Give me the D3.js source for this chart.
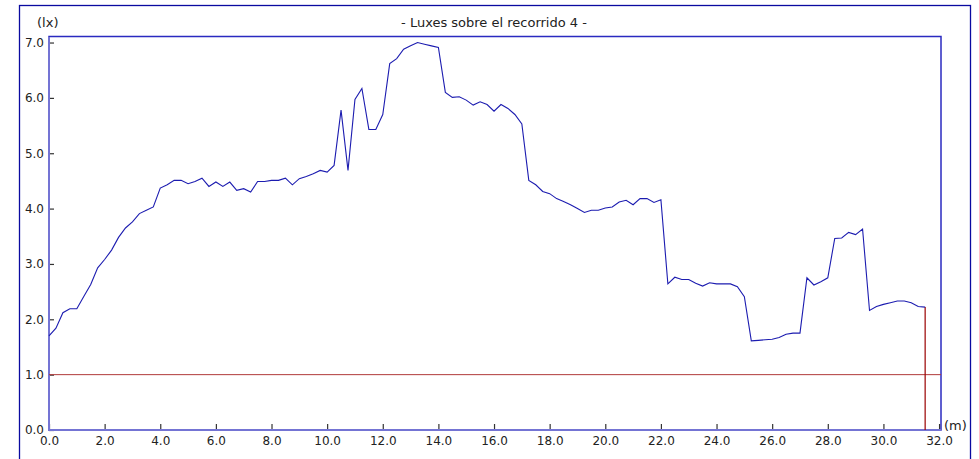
<!DOCTYPE html>
<html>
<head>
<meta charset="utf-8">
<script src="https://cdn.jsdelivr.net/npm/d3@7"></script>
<style>
	body { margin: 0; background: #fff; }
	text { font-family: "DejaVu Sans", Verdana, sans-serif; font-size: 12px; fill: #222; }
</style>
</head>
<body>
<svg id="chart" width="979" height="459"></svg>
<script>
// Luxes measured every 0.25 m along route 4
const step = 0.25;
const luxValues = [
	1.70, 1.84, 2.12, 2.19, 2.19, 2.41, 2.63, 2.93, 3.08, 3.25, 3.48, 3.65,
	3.76, 3.91, 3.97, 4.03, 4.37, 4.43, 4.51, 4.51, 4.45, 4.49, 4.55, 4.40,
	4.48, 4.40, 4.48, 4.33, 4.36, 4.30, 4.49, 4.49, 4.51, 4.51, 4.55, 4.43,
	4.54, 4.58, 4.63, 4.69, 4.66, 4.78, 5.78, 4.69, 5.97, 6.17, 5.43, 5.43,
	5.70, 6.62, 6.71, 6.88, 6.94, 7.00, 6.97, 6.94, 6.91, 6.10, 6.01, 6.02,
	5.96, 5.87, 5.93, 5.88, 5.76, 5.88, 5.81, 5.70, 5.53, 4.51, 4.43, 4.31,
	4.27, 4.18, 4.13, 4.07, 4.00, 3.93, 3.97, 3.97, 4.01, 4.03, 4.12, 4.15,
	4.07, 4.18, 4.18, 4.11, 4.16, 2.64, 2.76, 2.72, 2.72, 2.65, 2.60, 2.66,
	2.64, 2.64, 2.64, 2.59, 2.41, 1.61, 1.62, 1.63, 1.64, 1.67, 1.73, 1.75,
	1.75, 2.75, 2.62, 2.68, 2.75, 3.46, 3.47, 3.57, 3.53, 3.63, 2.16, 2.23,
	2.27, 2.30, 2.33, 2.33, 2.30, 2.23, 2.22
];
const threshold = 1.0;
const xTicks = d3.range(0, 32.01, 2);
const yTicks = d3.range(0, 7.01, 1);
const title = "- Luxes sobre el recorrido 4 -";

const svg = d3.select("#chart");
const plot = { left: 49, right: 941, top: 37, bottom: 430 };

const x = d3.scaleLinear().domain([0, 32.07]).range([plot.left, plot.right]);
const y = d3.scaleLinear().domain([0, 7.1]).range([plot.bottom, plot.top]);

const points = luxValues.map((v, i) => ({ d: i * step, v: v }));
const lastD = points[points.length - 1].d;

// outer frame
svg.append("rect")
	.attr("x", 19.5).attr("y", 5.5)
	.attr("width", 951).attr("height", 470)
	.attr("fill", "none").attr("stroke", "#0a0aa0").attr("stroke-width", 1.3);

// plot frame
svg.append("rect")
	.attr("x", plot.left).attr("y", plot.top - 0.5)
	.attr("width", plot.right - plot.left).attr("height", plot.bottom - plot.top + 0.5)
	.attr("fill", "none").attr("stroke", "#2a2ac0").attr("stroke-width", 1.5);

// title
svg.append("text")
	.attr("x", 494).attr("y", 27)
	.attr("text-anchor", "middle")
	.style("font-size", "13px")
	.text(title);

// axes
const yAxis = svg.append("g").attr("transform", `translate(${plot.left},0)`)
	.call(d3.axisLeft(y).tickValues(yTicks).tickSize(-5).tickPadding(5)
		.tickFormat(d3.format(".1f")));
yAxis.select(".domain").remove();
yAxis.selectAll(".tick line").attr("stroke", "#333").attr("stroke-width", 1.2);
yAxis.selectAll(".tick text").style("font-size", "12px").attr("fill", "#222");

const xAxis = svg.append("g").attr("transform", `translate(0,${plot.bottom})`)
	.call(d3.axisBottom(x).tickValues(xTicks).tickSize(-6).tickPadding(6)
		.tickFormat(d3.format(".1f")));
xAxis.select(".domain").remove();
xAxis.selectAll(".tick line").attr("stroke", "#333").attr("stroke-width", 1.2);
xAxis.selectAll(".tick text").style("font-size", "12px").attr("fill", "#222");

// axis lines (lighter blue)
svg.append("line")
	.attr("x1", plot.left).attr("x2", plot.left).attr("y1", plot.top).attr("y2", plot.bottom + 1)
	.attr("stroke", "#7474d4").attr("stroke-width", 2);
svg.append("line")
	.attr("x1", plot.left).attr("x2", plot.right).attr("y1", plot.bottom).attr("y2", plot.bottom)
	.attr("stroke", "#7474d4").attr("stroke-width", 2);

// unit labels
svg.append("text").attr("x", 37).attr("y", 27).style("font-size", "13px").text("(lx)");
svg.append("text").attr("x", 944).attr("y", 430).style("font-size", "13px").text("(m)");

// threshold line
svg.append("line")
	.attr("x1", x(0)).attr("x2", plot.right)
	.attr("y1", y(threshold)).attr("y2", y(threshold))
	.attr("stroke", "#b03a3a").attr("stroke-width", 1);

// end of route drop
svg.append("line")
	.attr("x1", x(lastD)).attr("x2", x(lastD))
	.attr("y1", y(luxValues[luxValues.length - 1])).attr("y2", y(0))
	.attr("stroke", "#9a0000").attr("stroke-width", 1.2);

// lux line
const line = d3.line().x((d) => x(d.d)).y((d) => y(d.v));
svg.append("path")
	.datum(points)
	.attr("d", line)
	.attr("fill", "none")
	.attr("stroke", "#1c1cb0")
	.attr("stroke-width", 1.1);
</script>
</body>
</html>
